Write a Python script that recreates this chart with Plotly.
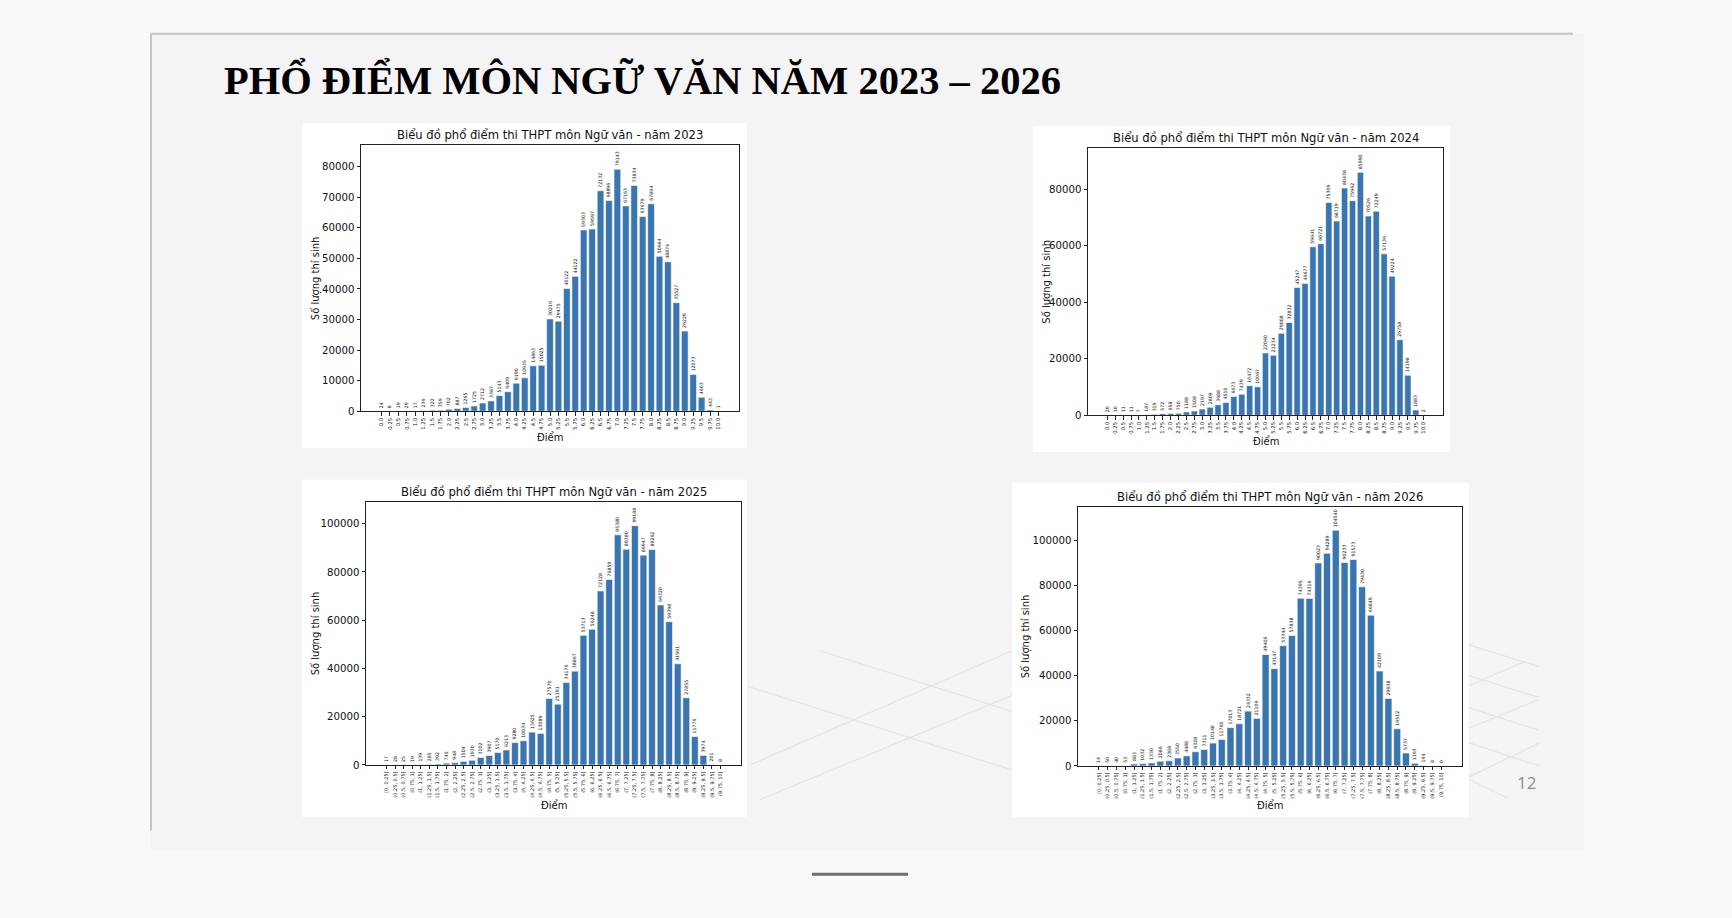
import plotly.graph_objects as go

W, H = 1732, 918

# ---------------- data ----------------
score_labels = [str(i * 0.25) for i in range(41)]  # "0.0", "0.25", ..., "10.0"


def _g(v):
    return f"{v:g}"


interval_labels = ["[0, 0.25]"] + [f"({_g(i * 0.25)}, {_g((i + 1) * 0.25)}]" for i in range(1, 40)]

counts_2023 = [24, 8, 19, 29, 17, 236, 322, 359, 702, 887, 1265, 1725, 2712, 3387, 5143, 6409,
               9190, 10935, 14863, 15025, 30216, 29475, 40122, 44122, 59303, 59597, 72132, 68896,
               79143, 67163, 73834, 63679, 67864, 50664, 48874, 35527, 26229, 12073, 4603, 443, 1]

counts_2024 = [20, 10, 11, 11, 7, 187, 319, 572, 658, 750, 1188, 1508, 2197, 2809, 3688, 4510,
               6673, 7439, 10472, 10067, 22060, 21234, 29008, 32832, 45247, 46677, 59641, 60721,
               75309, 68719, 80438, 75962, 85990, 70526, 72249, 57136, 49224, 26758, 14198, 1883, 2]

counts_2025 = [17, 28, 25, 19, 139, 285, 392, 745, 948, 1504, 1930, 3102, 3907, 5170, 6213, 9280,
               10034, 13625, 13089, 27570, 25191, 34176, 38867, 53713, 56248, 72128, 76859, 95380,
               89380, 99188, 86947, 89262, 66320, 59398, 41961, 27855, 11776, 3974, 201, 8]

counts_2026 = [14, 50, 40, 53, 883, 1032, 1330, 2086, 2308, 3550, 4488, 6328, 7311, 10148, 11760,
               17013, 18721, 24332, 21106, 49406, 43147, 53344, 57838, 74395, 74316, 90023, 94289,
               104540, 90233, 91573, 79430, 66849, 42109, 29938, 16512, 5737, 1163, 164, 8, 0]

years = [2023, 2024, 2025, 2026]
slide_title = "PHỔ ĐIỂM MÔN NGỮ VĂN NĂM 2023 – 2026"
chart_title = "Biểu đồ phổ điểm thi THPT môn Ngữ văn - năm {}"
y_title = "Số lượng thí sinh"
x_title = "Điểm"
page_number = "12"

yticks_2023 = [0, 10000, 20000, 30000, 40000, 50000, 60000, 70000, 80000]
yticks_2024 = [0, 20000, 40000, 60000, 80000]
yticks_2025 = [0, 20000, 40000, 60000, 80000, 100000]
yticks_2026 = [0, 20000, 40000, 60000, 80000, 100000]

# ---------------- layout helpers (pixel -> paper) ----------------
def fx(x):
    return x / W


def fy(y):
    return 1 - y / H


BAR = "#3a75b0"
FONT = "DejaVu Sans"

charts = [
    dict(cats=score_labels, vals=counts_2023, year=2023, yt=yticks_2023, tfs=5.3,
         ax=(361, 146, 739, 414), panel=(302, 124, 747, 451)),
    dict(cats=score_labels, vals=counts_2024, year=2024, yt=yticks_2024, tfs=5.3,
         ax=(1088, 149, 1443, 418), panel=(1033, 127, 1450, 455)),
    dict(cats=interval_labels, vals=counts_2025, year=2025, yt=yticks_2025, tfs=5.0,
         ax=(366, 505, 741, 770), panel=(302, 483, 747, 822)),
    dict(cats=interval_labels, vals=counts_2026, year=2026, yt=yticks_2026, tfs=5.0,
         ax=(1078, 510, 1462, 771), panel=(1012, 486, 1469, 822)),
]

fig = go.Figure()
shapes = []
annotations = []

# slide background and borders
shapes.append(dict(type="rect", xref="paper", yref="paper", x0=fx(151), x1=fx(1584), y0=fy(856), y1=fy(34),
                   fillcolor="#f4f4f4", line=dict(width=0), layer="below"))
shapes.append(dict(type="line", xref="paper", yref="paper", x0=fx(151), x1=fx(1573), y0=fy(34), y1=fy(34),
                   line=dict(color="#c4c4c4", width=2), layer="below"))
shapes.append(dict(type="line", xref="paper", yref="paper", x0=fx(151), x1=fx(151), y0=fy(34), y1=fy(836),
                   line=dict(color="#c4c4c4", width=2), layer="below"))

# faint decorative perspective grid lines (lower right of slide)
deco = [((1440, 640), (1539, 671)), ((1440, 671), (1539, 702)), ((1440, 703), (1539, 735)),
        ((1440, 738), (1539, 771)), ((1440, 770), (1507, 803)),
        ((1469, 690), (1525, 666)), ((1469, 733), (1539, 704)), ((1469, 782), (1539, 748)),
        ((750, 770), (1012, 655)), ((760, 805), (1012, 700)), ((745, 690), (1012, 775)),
        ((820, 655), (1012, 716))]
for (a, b) in deco:
    shapes.append(dict(type="line", xref="paper", yref="paper", x0=fx(a[0]), y0=fy(a[1]), x1=fx(b[0]), y1=fy(b[1]),
                       line=dict(color="#e3e3e3", width=1.2), layer="below"))

for i, c in enumerate(charts, start=1):
    xa = "x" if i == 1 else f"x{i}"
    ya = "y" if i == 1 else f"y{i}"
    n = len(c["cats"])
    span = (n - 1) + 0.8
    xr = [-0.4 - 0.05 * span, (n - 1) + 0.4 + 0.05 * span]
    yr = [0, max(c["vals"]) * 1.1]
    x0, y0, x1, y1 = c["ax"]
    px0, py0, px1, py1 = c["panel"]

    fig.add_trace(go.Bar(
        x=c["cats"], y=c["vals"], xaxis=xa, yaxis=ya,
        marker=dict(color=BAR, line=dict(color="white", width=0.6)),
        text=[str(v) for v in c["vals"]], textposition="outside", textangle=-90,
        textfont=dict(family=FONT, size=4.7, color="#111"), constraintext="none",
        cliponaxis=False, showlegend=False, hoverinfo="x+y",
    ))

    axis_common = dict(showline=True, mirror=True, linecolor="#222", linewidth=1, showgrid=False,
                       zeroline=False, ticks="outside", ticklen=3.5, tickwidth=0.8, tickcolor="#222")
    fig.update_layout(**{
        ("xaxis" if i == 1 else f"xaxis{i}"): dict(
            axis_common, domain=[fx(x0), fx(x1)], anchor=ya, type="category", range=xr,
            tickangle=-90, tickfont=dict(family=FONT, size=c["tfs"], color="#111")),
        ("yaxis" if i == 1 else f"yaxis{i}"): dict(
            axis_common, domain=[fy(y1), fy(y0)], anchor=xa, range=yr,
            tickvals=c["yt"], ticktext=[str(v) for v in c["yt"]],
            tickfont=dict(family=FONT, size=10.2, color="#111")),
    })

    shapes.append(dict(type="rect", xref="paper", yref="paper", x0=fx(px0), x1=fx(px1), y0=fy(py1), y1=fy(py0),
                       fillcolor="white", line=dict(width=0), layer="below"))

    cx = (x0 + x1) / 2
    annotations.append(dict(text=chart_title.format(c["year"]), xref="paper", yref="paper",
                            x=fx(cx), y=fy(y0 - 10), xanchor="center", yanchor="middle", showarrow=False,
                            font=dict(family=FONT, size=11.6, color="#111")))
    annotations.append(dict(text=x_title, xref="paper", yref="paper", x=fx(cx), y=fy(py1 - 11.5),
                            xanchor="center", yanchor="middle", showarrow=False,
                            font=dict(family=FONT, size=10, color="#111")))
    annotations.append(dict(text=y_title, xref="paper", yref="paper", x=fx(px0 + 6), y=fy((y0 + y1) / 2),
                            xanchor="left", yanchor="middle", textangle=-90, showarrow=False,
                            font=dict(family=FONT, size=10, color="#111")))

# slide title
annotations.append(dict(text=f"<b>{slide_title}</b>", xref="paper", yref="paper", x=fx(222), y=fy(81),
                        xanchor="left", yanchor="middle", showarrow=False,
                        font=dict(family="Liberation Serif", size=40.5, color="#000")))
# page number
annotations.append(dict(text=page_number, xref="paper", yref="paper", x=fx(1526), y=fy(788),
                        xanchor="center", yanchor="middle", showarrow=False,
                        font=dict(family="Open Sans", size=17, color="#8c8c8c")))
# bottom home indicator
shapes.append(dict(type="line", xref="paper", yref="paper", x0=fx(812), x1=fx(908), y0=fy(880), y1=fy(880),
                   line=dict(color="#707070", width=3), layer="above"))

fig.update_layout(
    width=W, height=H, margin=dict(l=0, r=0, t=0, b=0, pad=0),
    paper_bgcolor="#f8f9fb", plot_bgcolor="white",
    bargap=0.2, shapes=shapes, annotations=annotations,
)

fig.write_html("out.html", config={"displayModeBar": False})
